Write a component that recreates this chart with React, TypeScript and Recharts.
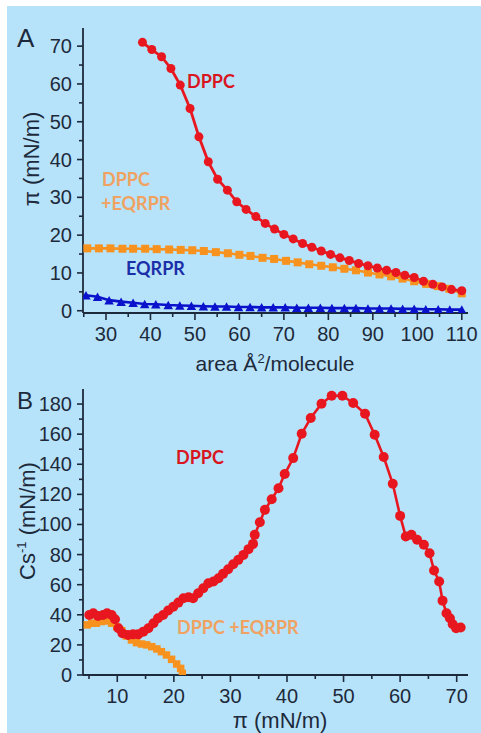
import React from 'react';
import { LineChart, Line, XAxis, YAxis } from 'recharts';

// ---- Panel A: surface pressure isotherms (area per molecule vs pi) ----
const areaDppc = [38.2, 40.3, 42.5, 44.6, 46.7, 48.9, 50.9, 53.0, 55.1, 57.3, 59.4, 61.5, 63.7, 65.8, 67.9, 70.0, 72.1, 74.2, 76.3, 78.4, 80.5, 82.6, 84.7, 86.8, 88.9, 91.0, 93.1, 95.2, 97.2, 99.3, 101.4, 103.5, 105.6, 107.7, 110.0];
const piDppc = [71.0, 69.1, 67.2, 64.1, 59.7, 53.5, 46.0, 39.4, 34.8, 31.9, 28.8, 26.8, 24.9, 23.1, 21.6, 20.2, 19.0, 17.8, 16.8, 15.8, 14.9, 14.0, 13.3, 12.5, 11.9, 11.3, 10.7, 10.1, 9.4, 8.8, 7.8, 7.0, 6.3, 5.6, 5.3];

const areaMix = [25.8, 28.4, 31.0, 33.7, 36.1, 38.8, 41.4, 44.2, 46.8, 49.4, 52.0, 54.7, 57.4, 60.0, 62.5, 65.2, 67.8, 70.5, 73.1, 75.7, 78.4, 81.0, 83.6, 86.2, 88.9, 91.5, 94.1, 96.7, 99.3, 102.0, 104.6, 107.2, 110.0];
const piMix = [16.5, 16.5, 16.5, 16.4, 16.4, 16.4, 16.3, 16.2, 16.1, 16.0, 15.8, 15.5, 15.2, 14.8, 14.5, 14.0, 13.7, 13.2, 12.8, 12.3, 11.9, 11.5, 11.1, 10.7, 10.1, 9.6, 9.1, 8.5, 7.8, 7.1, 6.5, 5.8, 4.6];

const areaPeptide = [25.5, 28.1, 30.7, 33.4, 36.1, 38.7, 41.2, 44.0, 46.6, 49.2, 51.9, 54.5, 57.1, 59.8, 62.4, 65.0, 67.6, 70.3, 72.9, 75.5, 78.2, 80.8, 83.6, 86.2, 88.9, 91.5, 94.1, 96.7, 99.3, 101.9, 104.7, 107.3, 110.0];
const piPeptide = [4.1, 3.7, 2.8, 2.4, 2.1, 1.8, 1.7, 1.5, 1.4, 1.3, 1.2, 1.1, 1.1, 1.0, 1.0, 0.9, 0.9, 0.9, 0.8, 0.8, 0.8, 0.7, 0.7, 0.7, 0.6, 0.6, 0.6, 0.5, 0.5, 0.4, 0.4, 0.3, 0.3];

// ---- Panel B: compressional modulus vs surface pressure ----
const piModDppc = [5.05, 5.76, 6.6, 7.5, 8.2, 9.0, 9.6, 10.2, 10.9, 11.9, 12.8, 13.7, 14.6, 15.5, 16.4, 17.2, 18.1, 19.0, 19.9, 20.8, 21.7, 22.6, 23.4, 24.3, 25.2, 26.1, 27.0, 27.9, 28.7, 29.6, 30.5, 31.4, 32.3, 33.2, 34.0, 34.3, 35.2, 36.1, 37.3, 38.5, 39.6, 41.1, 42.6, 44.2, 46.1, 47.9, 49.8, 51.7, 53.8, 55.5, 57.1, 58.7, 60.0, 61.0, 62.0, 63.0, 64.2, 65.2, 66.0, 66.9, 67.5, 68.2, 68.8, 69.3, 69.9, 70.7];
const csDppc = [39.9, 41.0, 39.2, 39.9, 41.0, 39.9, 37.0, 31.0, 27.7, 26.6, 27.0, 27.0, 28.8, 31.0, 34.4, 37.7, 39.9, 42.8, 45.4, 48.1, 51.0, 51.7, 51.0, 54.3, 57.6, 61.0, 62.1, 64.3, 67.2, 70.3, 73.6, 76.5, 79.8, 83.6, 87.1, 93.1, 101.5, 109.7, 116.8, 124.1, 133.5, 144.1, 160.3, 170.7, 180.2, 185.5, 185.5, 180.7, 173.6, 159.6, 144.8, 127.0, 105.7, 92.0, 93.1, 89.8, 86.5, 80.9, 69.4, 62.1, 49.4, 41.0, 37.7, 33.7, 31.0, 31.5];

const piModMix = [4.7, 5.5, 6.3, 7.2, 8.1, 9.0, 9.9, 10.8, 11.6, 12.5, 13.4, 14.3, 15.2, 16.1, 17.0, 17.8, 18.7, 19.6, 20.5, 21.2, 21.5];
const csMix = [33.3, 34.4, 34.4, 35.5, 35.9, 34.4, 32.1, 29.5, 25.9, 23.3, 21.5, 20.6, 20.0, 18.8, 17.3, 15.5, 13.3, 10.4, 7.3, 4.4, 1.1];

// ---- Axis ticks ----
const ticksAreaX = [25, 30, 35, 40, 45, 50, 55, 60, 65, 70, 75, 80, 85, 90, 95, 100, 105, 110];
const majorAreaX = [30, 40, 50, 60, 70, 80, 90, 100, 110];
const ticksPiY = [0, 5, 10, 15, 20, 25, 30, 35, 40, 45, 50, 55, 60, 65, 70];
const majorPiY = [0, 10, 20, 30, 40, 50, 60, 70];
const ticksPiX = [5, 10, 15, 20, 25, 30, 35, 40, 45, 50, 55, 60, 65, 70];
const majorPiX = [10, 20, 30, 40, 50, 60, 70];
const ticksCsY = [0, 10, 20, 30, 40, 50, 60, 70, 80, 90, 100, 110, 120, 130, 140, 150, 160, 170, 180];
const majorCsY = [0, 20, 40, 60, 80, 100, 120, 140, 160, 180];

const RED = '#e8171f';
const ORANGE = '#f7921f';
const BLUE = '#0a12cc';
const AXIS = '#1d2a3b';
const BG = '#b7e3fa';
const TICK_FONT = '"Liberation Sans", Arial, sans-serif';
const NOTE_FONT = 'Lato, "Open Sans", sans-serif';

const toPoints = (xs: number[], ys: number[]) => xs.map((x, i) => ({ x, y: ys[i] }));

const circleDot = (color: string, r: number) => (p: any) => {
  if (p.cx == null || p.cy == null) return <g key={p.index} />;
  return <circle key={p.index} cx={p.cx} cy={p.cy} r={r} fill={color} />;
};
const squareDot = (color: string, s: number) => (p: any) => {
  if (p.cx == null || p.cy == null) return <g key={p.index} />;
  return <rect key={p.index} x={p.cx - s / 2} y={p.cy - s / 2} width={s} height={s} fill={color} />;
};
const triangleDot = (color: string, w: number, h: number) => (p: any) => {
  if (p.cx == null || p.cy == null) return <g key={p.index} />;
  const pts = `${p.cx - w / 2},${p.cy + h / 2} ${p.cx + w / 2},${p.cy + h / 2} ${p.cx},${p.cy - h / 2}`;
  return <polygon key={p.index} points={pts} fill={color} />;
};

const xTick = (majors: number[]) => (p: any) => {
  const v = p.payload.value;
  const major = majors.includes(v);
  return (
    <g key={`xt-${v}`}>
      <line x1={p.x} x2={p.x} y1={p.y} y2={p.y + (major ? 7 : 4)} stroke={AXIS} strokeWidth={1.6} />
      {major && (
        <text x={p.x} y={p.y + 28} textAnchor="middle" fontSize={20} fontFamily={TICK_FONT} fill={AXIS}>
          {v}
        </text>
      )}
    </g>
  );
};

const yTick = (majors: number[]) => (p: any) => {
  const v = p.payload.value;
  const major = majors.includes(v);
  return (
    <g key={`yt-${v}`}>
      <line x1={p.x} x2={p.x - (major ? 6 : 4)} y1={p.y} y2={p.y} stroke={AXIS} strokeWidth={1.6} />
      {major && (
        <text x={p.x - 11} y={p.y + 7} textAnchor="end" fontSize={20} fontFamily={TICK_FONT} fill={AXIS}>
          {v}
        </text>
      )}
    </g>
  );
};

const axisLine = { stroke: AXIS, strokeWidth: 1.8 };

export default function App() {
  const dppcA = toPoints(areaDppc, piDppc);
  const mixA = toPoints(areaMix, piMix);
  const pepA = toPoints(areaPeptide, piPeptide);
  const dppcB = toPoints(piModDppc, csDppc);
  const mixB = toPoints(piModMix, csMix);

  return (
    <div style={{ position: 'absolute', left: 0, top: 0, width: 481, height: 733, background: '#ffffff', overflow: 'hidden' }}>
      <div style={{ position: 'absolute', left: 7, top: 6, width: 474, height: 727, background: BG }} />

      <div style={{ position: 'absolute', left: 0, top: 0 }}>
        <LineChart width={481} height={370} margin={{ top: 28, right: 13, bottom: 0, left: 0 }}>
          <XAxis
            type="number"
            dataKey="x"
            domain={[24.83, 111.4]}
            allowDataOverflow
            ticks={ticksAreaX}
            interval={0}
            height={57}
            tickSize={0}
            tickMargin={0}
            tickLine={false}
            axisLine={axisLine}
            tick={xTick(majorAreaX)}
          />
          <YAxis
            type="number"
            dataKey="y"
            domain={[-0.6, 74.8]}
            allowDataOverflow
            ticks={ticksPiY}
            interval={0}
            width={83}
            tickSize={0}
            tickMargin={0}
            tickLine={false}
            axisLine={axisLine}
            tick={yTick(majorPiY)}
          />
          <Line data={pepA} dataKey="y" type="linear" stroke={BLUE} strokeWidth={2.6} dot={triangleDot(BLUE, 9.5, 8.5)} isAnimationActive={false} />
          <Line data={mixA} dataKey="y" type="linear" stroke={ORANGE} strokeWidth={2.6} dot={squareDot(ORANGE, 8)} isAnimationActive={false} />
          <Line data={dppcA} dataKey="y" type="linear" stroke={RED} strokeWidth={2.8} dot={circleDot(RED, 4.5)} isAnimationActive={false} />
        </LineChart>
      </div>

      <div style={{ position: 'absolute', left: 0, top: 370 }}>
        <LineChart width={481} height={363} margin={{ top: 19, right: 13, bottom: 0, left: 0 }}>
          <XAxis
            type="number"
            dataKey="x"
            domain={[3.94, 72]}
            allowDataOverflow
            ticks={ticksPiX}
            interval={0}
            height={58}
            tickSize={0}
            tickMargin={0}
            tickLine={false}
            axisLine={axisLine}
            tick={xTick(majorPiX)}
          />
          <YAxis
            type="number"
            dataKey="y"
            domain={[0, 190]}
            allowDataOverflow
            ticks={ticksCsY}
            interval={0}
            width={83}
            tickSize={0}
            tickMargin={0}
            tickLine={false}
            axisLine={axisLine}
            tick={yTick(majorCsY)}
          />
          <Line data={mixB} dataKey="y" type="linear" stroke={ORANGE} strokeWidth={2.6} dot={squareDot(ORANGE, 7.5)} isAnimationActive={false} />
          <Line data={dppcB} dataKey="y" type="linear" stroke={RED} strokeWidth={2.6} dot={circleDot(RED, 5)} isAnimationActive={false} />
        </LineChart>
      </div>

      {/* panel letters, axis titles and series notes */}
      <svg width={481} height={733} style={{ position: 'absolute', left: 0, top: 0, pointerEvents: 'none' }}>
        <text x={17} y={47} fontSize={26} fontFamily={TICK_FONT} fill={AXIS}>A</text>
        <text x={17} y={409} fontSize={24} fontFamily={TICK_FONT} fill={AXIS}>B</text>

        <text x={275} y={371} textAnchor="middle" fontSize={21} fontFamily={TICK_FONT} fill={AXIS}>
          area Å<tspan dy={-8} fontSize={13}>2</tspan>
          <tspan dy={8}>/molecule</tspan>
        </text>
        <text
          transform="translate(39,159) rotate(-90)"
          textAnchor="middle"
          fontSize={22}
          fontFamily={TICK_FONT}
          fill={AXIS}
        >
          π (mN/m)
        </text>

        <text x={280} y={728} textAnchor="middle" fontSize={22} fontFamily={TICK_FONT} fill={AXIS}>
          π (mN/m)
        </text>
        <text
          transform="translate(35,521) rotate(-90)"
          textAnchor="middle"
          fontSize={22}
          fontFamily={TICK_FONT}
          fill={AXIS}
        >
          Cs<tspan dy={-9} fontSize={13}>-1</tspan>
          <tspan dy={9}> (mN/m)</tspan>
        </text>

        <text x={187} y={88} fontSize={18} fontWeight={700} fontFamily={NOTE_FONT} fill="#d9161f">DPPC</text>
        <text x={102} y={186} fontSize={18} fontWeight={700} fontFamily={NOTE_FONT} fill="#f0a262">DPPC</text>
        <text x={101} y={210} fontSize={18} fontWeight={700} fontFamily={NOTE_FONT} fill="#f0a262">+EQRPR</text>
        <text x={126} y={275} fontSize={18} fontWeight={700} fontFamily={NOTE_FONT} fill="#1b2fa8">EQRPR</text>

        <text x={176} y={464} fontSize={18} fontWeight={700} fontFamily={NOTE_FONT} fill="#d9161f">DPPC</text>
        <text x={177} y={634} fontSize={18} fontWeight={700} fontFamily={NOTE_FONT} fill="#f0a262">DPPC +EQRPR</text>
      </svg>
    </div>
  );
}
